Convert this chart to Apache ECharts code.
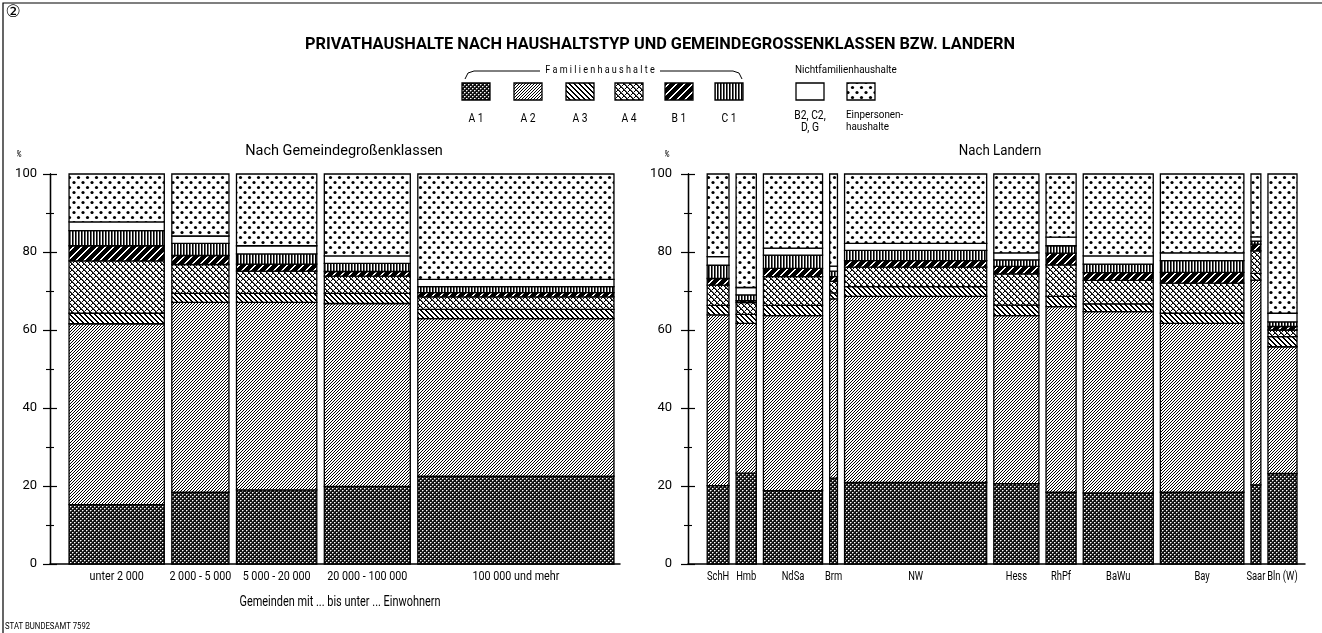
<!DOCTYPE html>
<html><head><meta charset="utf-8">
<script src="https://cdn.jsdelivr.net/npm/echarts@6/dist/echarts.min.js"></script>
<style>html,body{margin:0;padding:0;background:#fff}#c{width:1322px;height:633px}</style>
</head><body><div id="c"></div><script>
// ---------- DATA ----------
const typeNames = ['A1','A2','A3','A4','B1','C1','B2, C2, D, G','Einpersonenhaushalte'];
// Left panel: Gemeindegrößenklassen
const gemCategories = ['unter 2 000','2 000 - 5 000','5 000 - 20 000','20 000 - 100 000','100 000 und mehr'];
const gemWidths = [18.5, 11.1, 15.6, 16.7, 38.1];           // share of households (bar width)
const gemA1 = [15.2, 18.4, 19.0, 19.9, 22.5];
const gemA2 = [46.4, 48.7, 48.1, 46.9, 40.4];
const gemA3 = [2.7, 2.3, 2.3, 2.6, 2.4];
const gemA4 = [13.4, 7.4, 5.7, 4.4, 3.2];
const gemB1 = [3.9, 2.3, 1.8, 1.2, 1.1];
const gemC1 = [3.9, 3.1, 2.6, 2.1, 1.5];
const gemB2 = [2.2, 1.9, 2.1, 1.9, 1.9];
const gemEP = [12.3, 15.9, 18.4, 21.0, 27.0];
// Right panel: Länder
const landCategories = ['SchH','Hmb','NdSa','Brm','NW','Hess','RhPf','BaWu','Bay','Saar','Bln (W)'];
const landWidths = [4.2, 3.9, 11.4, 1.5, 27.4, 8.7, 5.8, 13.5, 16.1, 1.9, 5.6];
const landA1 = [20.1, 23.3, 18.8, 22.0, 20.9, 20.6, 18.4, 18.2, 18.4, 20.3, 23.2];
const landA2 = [43.8, 38.4, 44.9, 46.0, 47.7, 43.1, 47.6, 46.5, 43.3, 52.5, 32.5];
const landA3 = [2.4, 2.3, 2.6, 1.5, 2.5, 2.7, 2.6, 2.0, 2.6, 1.7, 2.6];
const landA4 = [5.2, 3.0, 7.4, 3.0, 5.0, 8.0, 8.1, 6.0, 7.7, 5.8, 1.7];
const landB1 = [1.7, 0.5, 2.1, 1.2, 1.7, 1.9, 3.0, 2.0, 2.8, 1.7, 0.9];
const landC1 = [3.4, 1.5, 3.4, 1.4, 2.6, 1.7, 1.9, 2.2, 3.0, 0.8, 1.2];
const landB2 = [2.2, 1.9, 1.8, 1.3, 1.8, 1.8, 2.2, 2.1, 2.0, 1.1, 2.2];
const landEP = [21.2, 29.1, 19.0, 23.6, 17.8, 20.2, 16.2, 21.0, 20.2, 16.1, 35.7];
const yTicks = [0, 20, 40, 60, 80, 100];

// ---------- PATTERNS ----------
function tile(w, h, bg, draw) {
  const c = document.createElement('canvas'); c.width = w; c.height = h;
  const g = c.getContext('2d'); g.fillStyle = bg; g.fillRect(0, 0, w, h);
  draw(g, w, h); return { image: c, repeat: 'repeat' };
}
function px(g, x, y, col) { g.fillStyle = col; g.fillRect(x, y, 1, 1); }
const patterns = [
  tile(4, 4, '#111', g => { px(g,0,0,'#fff'); px(g,2,2,'#fff'); px(g,1,0,'#888'); px(g,3,2,'#888'); px(g,0,1,'#666'); px(g,2,3,'#666'); }),
  tile(3, 3, '#fff', g => { for (let i = 0; i < 3; i++) px(g, i, 2 - i, '#000'); }),
  tile(5, 5, '#fff', g => { for (let i = 0; i < 5; i++) { px(g, i, i, '#000'); px(g, (i + 1) % 5, i, '#000'); } }),
  tile(6, 6, '#fff', g => { for (let i = 0; i < 6; i++) { px(g, i, i, '#000'); px(g, 5 - i, i, '#000'); px(g,(i+1)%6,i,'#555'); } }),
  tile(8, 8, '#000', g => { for (let i = 0; i < 8; i++) { px(g, i, 7 - i, '#fff'); px(g, (i + 1) % 8, 7 - i, '#fff'); } }),
  tile(3, 1, '#fff', g => { px(g, 0, 0, '#000'); px(g, 1, 0, '#666'); }),
  '#fff',
  tile(9, 10, '#fff', g => { g.fillStyle = '#000'; g.beginPath(); g.arc(2, 2.5, 1.6, 0, 7); g.fill(); g.beginPath(); g.arc(6.5, 7.5, 1.6, 0, 7); g.fill(); })
];

// ---------- LAYOUT HELPERS ----------
const F = "Roboto,'Liberation Sans',sans-serif";
const SX = 0.86; // condensed look
const PAD0 = 3.7, GAP_L = 1.46, GAP_R = 1.37;
function panelMax(widths, gap, padEnd) { return PAD0 + widths.reduce((a, b) => a + b, 0) + (widths.length - 1) * gap + padEnd; }
function starts(widths, gap) { let s = PAD0; return widths.map((w, i) => { const v = s; s += w + gap; return v; }); }

function buildSeries(gridIdx, widths, gap, values, cats, labelFont, labelSX) {
  const st = starts(widths, gap);
  const bottoms = widths.map(() => 0);
  const out = [];
  values.forEach((arr, t) => {
    const data = arr.map((v, i) => { const d = [st[i], st[i] + widths[i], bottoms[i], bottoms[i] + v]; bottoms[i] += v; return d; });
    out.push({
      type: 'custom', name: typeNames[t], xAxisIndex: gridIdx, yAxisIndex: gridIdx * 2, data, silent: true,
      renderItem: (params, api) => {
        const p0 = api.coord([api.value(0), api.value(3)]);
        const p1 = api.coord([api.value(1), api.value(2)]);
        return { type: 'rect', shape: { x: p0[0], y: p0[1], width: p1[0] - p0[0], height: p1[1] - p0[1] },
          style: { fill: patterns[t], stroke: '#000', lineWidth: 1.3 } };
      }
    });
  });
  out.push({
    type: 'custom', xAxisIndex: gridIdx, yAxisIndex: gridIdx * 2, silent: true,
    data: widths.map((w, i) => [st[i] + w / 2, 0]),
    renderItem: (params, api) => {
      const p = api.coord([api.value(0), 0]);
      return { type: 'text', x: p[0], y: p[1] + 13, scaleX: labelSX, style: { text: cats[params.dataIndex], fill: '#000', font: labelFont, textAlign: 'center', textVerticalAlign: 'middle' } };
    }
  });
  return out;
}

function yAx(gridIdx, inside, margin) {
  return {
    gridIndex: gridIdx, type: 'value', min: 0, max: 100, interval: 20, position: 'left', offset: 0,
    axisLine: { show: true, lineStyle: { color: '#000', width: 1.3 } },
    axisTick: { show: true, inside, length: 7, lineStyle: { color: '#000', width: 1.2 } },
    minorTick: { show: true, splitNumber: 2, length: 4, lineStyle: { color: '#000', width: 1.1 } },
    axisLabel: { show: !inside, margin, color: '#000', fontSize: 13, fontFamily: F,
      formatter: v => yTicks.includes(v) ? String(v) : '' },
    splitLine: { show: false }
  };
}
function xAx(gridIdx, max) {
  return { gridIndex: gridIdx, type: 'value', min: 0, max,
    axisLine: { show: true, onZero: false, lineStyle: { color: '#000', width: 1.5 } },
    axisTick: { show: false }, axisLabel: { show: false }, splitLine: { show: false } };
}

const leftMax = panelMax(gemWidths, GAP_L, 1.17);
const rightMax = panelMax(landWidths, GAP_R, 1.54);

function txt(x, y, text, font, align, sx) {
  return { type: 'text', x, y, scaleX: sx || SX, style: { text, font, fill: '#000', textAlign: align || 'center', textVerticalAlign: 'middle' } };
}

// legend graphics
const legendCenters = [476, 528, 580, 629, 679, 729, 810, 861];
const legendGraphics = [];
legendCenters.forEach((cx, t) => {
  legendGraphics.push({ type: 'rect', shape: { x: cx - 14, y: 83, width: 28, height: 17 }, style: { fill: patterns[t], stroke: '#000', lineWidth: 1.3 } });
  if (t < 6) legendGraphics.push(txt(cx, 119, typeNames[t].split('').join(' '), '12px ' + F));
});
legendGraphics.push(
  txt(810, 116, 'B2, C2,', '12px ' + F),
  txt(810, 128, 'D, G', '12px ' + F),
  txt(846, 115, 'Einpersonen-', '11.5px ' + F, 'left'),
  txt(846, 127, 'haushalte', '11.5px ' + F, 'left'),
  txt(600, 70, 'F a m i l i e n h a u s h a l t e', '10.5px ' + F),
  { type: 'polyline', shape: { points: [[465, 79], [468, 73], [474, 71], [540, 71]] }, style: { stroke: '#000', lineWidth: 1, fill: null } },
  { type: 'polyline', shape: { points: [[660, 71], [733, 71], [739, 73], [742, 79]] }, style: { stroke: '#000', lineWidth: 1, fill: null } },
  txt(795, 70, 'Nichtfamilienhaushalte', '11.5px ' + F, 'left')
);

const texts = [
  { type: 'text', x: 13, y: 13, style: { text: '②', font: '17px DejaVu Sans, sans-serif', fill: '#000', textAlign: 'center', textVerticalAlign: 'middle' } },
  txt(660, 45, 'PRIVATHAUSHALTE NACH HAUSHALTSTYP UND GEMEINDEGROSSENKLASSEN BZW. LANDERN', 'bold 16px ' + F, 'center', 1.02),
  txt(344, 151, 'Nach Gemeindegroßenklassen', '14.5px ' + F, 'center', 1.0),
  txt(1000, 151, 'Nach Landern', '14px ' + F, 'center', 0.95),
  txt(19, 155, '%', 'italic 9px ' + F),
  txt(667, 155, '%', 'italic 9px ' + F),
  txt(340, 602, 'Gemeinden mit ... bis unter ... Einwohnern', '14px ' + F, 'center', 0.78),
  txt(5, 627, 'STAT BUNDESAMT 7592', '9px ' + F, 'left'),
  { type: 'polyline', shape: { points: [[3, 633], [3, 3], [1322, 3]] }, style: { stroke: '#000', lineWidth: 1.2, fill: null } }
];

const chart = echarts.init(document.getElementById('c'), null, { renderer: 'canvas' });
chart.setOption({
  backgroundColor: '#fff',
  animation: false,
  grid: [
    { left: 50, top: 174, width: 570, height: 390 },
    { left: 688, top: 174, width: 617, height: 390 }
  ],
  xAxis: [xAx(0, leftMax), xAx(1, rightMax)],
  yAxis: [yAx(0, false, 13), yAx(0, true, 13), yAx(1, false, 16), yAx(1, true, 16)],
  series: [
    ...buildSeries(0, gemWidths, GAP_L, [gemA1, gemA2, gemA3, gemA4, gemB1, gemC1, gemB2, gemEP], gemCategories, '12.5px ' + F, SX),
    ...buildSeries(1, landWidths, GAP_R, [landA1, landA2, landA3, landA4, landB1, landC1, landB2, landEP], landCategories, '12px ' + F, 0.78)
  ],
  graphic: [...legendGraphics, ...texts]
});
</script></body></html>
